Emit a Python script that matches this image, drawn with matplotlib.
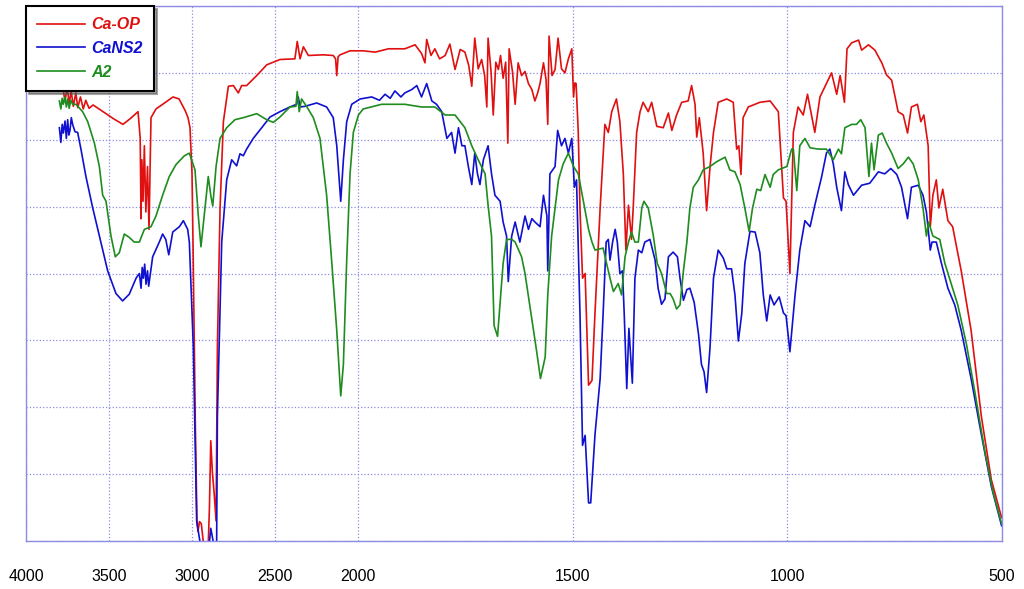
import matplotlib.pyplot as plt
import numpy as np
from matplotlib.ticker import FixedLocator, NullFormatter

# --- data: wavenumber [cm-1] and transmittance (arb., 0-80 full scale)
CAOP_WN = [3777, 3765, 3752, 3740, 3728, 3715, 3700, 3688, 3672, 3655, 3640, 3620, 3596, 3536, 3470, 3416,
           3370, 3325, 3312, 3307, 3302, 3295, 3287, 3278, 3268, 3259, 3253, 3247, 3217, 3160, 3114, 3078,
           3040, 3024, 3012, 3000, 2994, 2980, 2970, 2964, 2955, 2944, 2932, 2922, 2904, 2895, 2887, 2877,
           2867, 2855, 2847, 2831, 2811, 2781, 2751, 2721, 2701, 2671, 2610, 2550, 2470, 2380, 2366, 2349,
           2329, 2299, 2209, 2149, 2135, 2128, 2120, 2108, 2048, 1988, 1960, 1929, 1891, 1867, 1852, 1844,
           1840, 1830, 1821, 1810, 1797, 1786, 1774, 1762, 1751, 1742, 1735, 1728, 1720, 1712, 1705, 1700,
           1697, 1690, 1685, 1679, 1673, 1668, 1662, 1656, 1651, 1648, 1640, 1634, 1627, 1619, 1611, 1603,
           1595, 1588, 1582, 1576, 1568, 1562, 1558, 1555, 1548, 1541, 1534, 1526, 1518, 1510, 1502, 1498,
           1495, 1492, 1487, 1483, 1477, 1471, 1463, 1455, 1448, 1436, 1425, 1417, 1409, 1398, 1390, 1382,
           1376, 1370, 1363, 1359, 1351, 1343, 1336, 1324, 1316, 1304, 1289, 1277, 1269, 1258, 1246, 1231,
           1223, 1215, 1211, 1205, 1196, 1188, 1180, 1172, 1161, 1141, 1126, 1118, 1113, 1108, 1103, 1091,
           1064, 1040, 1021, 1009, 1003, 994, 986, 975, 963, 953, 936, 924, 909, 897, 885, 877, 867, 861,
           850, 834, 827, 811, 796, 780, 769, 757, 742, 730, 720, 711, 697, 689, 682, 672, 667, 661, 653,
           647, 638, 626, 615, 595, 572, 548, 525, 501]
CAOP_T = [67.7, 65.7, 67.9, 65.4, 67.3, 65.0, 67.0, 64.8, 66.4, 64.6, 65.9, 64.7, 65.2, 64.2, 63.1, 62.3,
          63.2, 64.2, 60.2, 48.2, 57.0, 50.8, 59.1, 49.2, 56.0, 46.6, 55.0, 63.3, 64.6, 65.6, 66.4, 66.1,
          64.3, 63.3, 61.8, 55.0, 44.7, 17.5, 3.0, 1.4, 2.9, 2.6, -0.1, -2, -2, 5.0, 15.0, 10.2,
          7.3, 3.0, 29.0, 49.8, 62.7, 68.0, 68.1, 67.0, 68.1, 68.1, 69.6, 71.2, 72.0, 72.1, 74.7, 72.1,
          73.9, 72.6, 72.7, 72.6, 72.1, 69.6, 72.4, 72.7, 73.3, 73.3, 73.1, 73.6, 73.6, 74.2, 72.9, 71.5,
          75.0, 72.6, 73.6, 72.1, 72.6, 74.3, 70.5, 73.5, 73.1, 71.1, 68.0, 75.2, 70.6, 72.0, 69.6, 64.9,
          75.2, 70.1, 63.7, 71.6, 70.5, 72.6, 69.2, 71.6, 59.5, 73.6, 70.1, 65.3, 71.5, 69.6, 70.2, 68.4,
          67.5, 65.8, 66.9, 68.4, 71.5, 69.0, 62.3, 75.5, 69.6, 70.5, 75.2, 70.6, 70.0, 72.1, 73.6, 66.4,
          68.5, 68.4, 61.2, 49.8, 39.3, 40.0, 23.3, 24.0, 34.1, 49.8, 62.3, 61.1, 64.2, 66.1, 62.7, 54.9,
          43.5, 50.2, 45.1, 49.8, 61.1, 64.2, 65.6, 64.2, 65.6, 62.0, 61.8, 64.0, 61.4, 63.7, 65.6, 65.8,
          68.1, 65.3, 60.4, 63.3, 58.0, 49.4, 56.0, 61.1, 65.6, 66.1, 65.6, 58.6, 59.1, 54.8, 63.3, 64.9,
          65.6, 65.8, 64.2, 51.3, 50.8, 40.0, 61.1, 64.9, 63.7, 66.8, 61.1, 66.4, 68.4, 70.0, 66.8, 69.6, 65.6, 73.6,
          74.5, 74.9, 73.4, 74.2, 73.4, 71.5, 69.7, 68.9, 64.2, 63.7, 61.0, 64.9, 65.3, 62.7, 63.7, 59.1, 47.0, 51.7, 54.0,
          49.8, 52.6, 47.9, 47.0, 40.4, 31.5, 18.6, 9.2, 3.5]

CANS2_WN = [3799, 3790, 3782, 3775, 3765, 3757, 3749, 3742, 3735, 3727, 3719, 3705, 3689, 3669, 3639, 3598,
            3558, 3508, 3458, 3418, 3378, 3337, 3317, 3307, 3300, 3293, 3285, 3277, 3268, 3261, 3237, 3197,
            3177, 3158, 3140, 3116, 3076, 3052, 3026, 3016, 2992, 2972, 2952, 2942, 2902, 2887, 2872, 2862,
            2852, 2847, 2821, 2791, 2761, 2731, 2711, 2691, 2671, 2631, 2580, 2530, 2470, 2410, 2370, 2360,
            2349, 2319, 2249, 2189, 2149, 2128, 2104, 2088, 2068, 2038, 1995, 1968, 1950, 1937, 1925, 1914,
            1900, 1891, 1875, 1863, 1852, 1840, 1828, 1817, 1805, 1793, 1782, 1774, 1766, 1758, 1751, 1743,
            1735, 1728, 1722, 1716, 1708, 1697, 1689, 1681, 1669, 1662, 1654, 1650, 1642, 1634, 1623, 1611,
            1603, 1595, 1588, 1576, 1568, 1560, 1558, 1553, 1541, 1535, 1526, 1518, 1510, 1502, 1496, 1491,
            1483, 1477, 1471, 1463, 1458, 1448, 1436, 1429, 1422, 1417, 1413, 1407, 1401, 1396, 1390, 1384,
            1380, 1374, 1369, 1361, 1355, 1347, 1339, 1332, 1320, 1308, 1301, 1293, 1285, 1277, 1266, 1256,
            1250, 1242, 1234, 1227, 1217, 1207, 1200, 1194, 1188, 1180, 1172, 1161, 1149, 1141, 1130, 1122,
            1114, 1106, 1099, 1087, 1075, 1064, 1056, 1048, 1040, 1031, 1019, 1009, 1003, 994, 982, 971,
            959, 947, 936, 920, 909, 901, 893, 885, 874, 866, 858, 846, 827, 808, 788, 773, 759, 745, 734,
            720, 711, 695, 684, 676, 667, 663, 653, 641, 626, 610, 595, 572, 548, 525, 501]
CANS2_T = [61.8, 59.6, 62.3, 61.0, 62.8, 60.2, 63.0, 60.7, 61.4, 63.3, 62.3, 61.2, 61.1, 58.6, 54.5, 49.8,
           45.6, 40.4, 37.0, 35.9, 36.9, 39.3, 40.0, 37.8, 40.9, 39.3, 41.4, 38.4, 40.4, 38.1, 42.5, 44.7,
           45.9, 45.1, 42.8, 46.2, 47.0, 47.9, 46.6, 44.7, 29.0, 3.0, -0.1, -2, -2, 1.9, -0.1, -2,
           -2, 18.6, 44.7, 54.0, 57.0, 56.1, 57.9, 57.6, 58.6, 60.2, 61.8, 63.4, 64.2, 64.9, 65.3, 66.4,
           64.9, 65.0, 65.5, 64.9, 63.3, 59.1, 50.8, 57.0, 62.7, 65.3, 66.1, 66.4, 65.9, 66.8, 66.2, 67.3,
           66.4, 67.0, 67.5, 68.1, 66.4, 68.4, 65.8, 65.3, 64.2, 60.2, 61.1, 58.0, 61.8, 59.1, 59.1, 56.0,
           53.3, 58.0, 55.0, 53.3, 57.0, 59.1, 54.9, 51.7, 50.8, 47.7, 45.6, 38.8, 45.6, 47.7, 44.7, 48.6,
           46.6, 48.2, 47.7, 47.0, 51.7, 48.6, 40.4, 54.9, 56.0, 61.4, 59.1, 60.2, 58.0, 60.2, 52.9, 54.0,
           34.1, 14.3, 15.8, 5.7, 5.7, 15.9, 24.3, 34.1, 44.7, 45.1, 42.0, 44.7, 46.6, 44.7, 40.0, 40.4,
           34.1, 22.8, 31.8, 23.6, 39.3, 43.5, 43.1, 44.7, 45.1, 42.0, 37.8, 35.4, 36.2, 42.5, 43.2, 42.5,
           39.3, 36.0, 37.6, 37.8, 35.7, 31.0, 26.4, 25.3, 22.2, 29.0, 39.3, 43.5, 42.3, 40.7, 40.7, 36.8,
           29.9, 34.1, 41.5, 46.3, 46.2, 43.1, 36.8, 32.9, 36.8, 35.3, 36.5, 34.1, 33.7, 28.3, 36.8, 43.5,
           47.9, 47.0, 50.2, 54.5, 58.0, 58.6, 56.4, 52.9, 49.4, 55.2, 53.3, 51.7, 53.2, 53.5, 55.2, 54.9, 55.7, 54.8, 52.9,
           48.2, 52.9, 53.2, 51.7, 49.2, 43.5, 44.7, 44.7, 41.5, 37.8, 35.3, 31.5, 24.3, 15.9, 8.2, 2.3]

A2_WN = [3799, 3790, 3782, 3775, 3765, 3757, 3749, 3740, 3730, 3719, 3699, 3659, 3628, 3588, 3558, 3538,
         3518, 3488, 3462, 3438, 3408, 3378, 3348, 3317, 3287, 3247, 3217, 3177, 3137, 3096, 3046, 3016,
         2982, 2962, 2946, 2922, 2902, 2887, 2875, 2855, 2831, 2791, 2741, 2691, 2610, 2550, 2510, 2470,
         2410, 2374, 2366, 2354, 2340, 2310, 2269, 2229, 2189, 2159, 2128, 2104, 2088, 2068, 2048, 2028,
         1999, 1988, 1945, 1891, 1852, 1821, 1797, 1774, 1751, 1735, 1720, 1704, 1697, 1689, 1683, 1675,
         1669, 1662, 1654, 1642, 1634, 1619, 1611, 1595, 1584, 1575, 1564, 1558, 1549, 1541, 1533, 1522,
         1510, 1498, 1487, 1475, 1463, 1455, 1448, 1429, 1421, 1413, 1405, 1394, 1386, 1378, 1370, 1363,
         1355, 1347, 1339, 1334, 1324, 1312, 1303, 1293, 1281, 1273, 1266, 1258, 1250, 1242, 1234, 1227,
         1219, 1207, 1196, 1180, 1165, 1145, 1134, 1122, 1110, 1099, 1089, 1081, 1071, 1062, 1052, 1040,
         1033, 1021, 1001, 990, 986, 978, 971, 959, 947, 928, 909, 893, 881, 874, 866, 850, 839, 829,
         819, 810, 804, 798, 788, 779, 769, 757, 742, 730, 718, 707, 695, 684, 676, 671, 661, 645, 633,
         618, 603, 583, 563, 540, 521, 501]
A2_T = [65.8, 64.6, 66.2, 65.3, 66.4, 64.9, 66.1, 64.7, 65.9, 65.3, 65.3, 64.2, 62.7, 59.5, 56.0, 51.7,
        50.8, 45.6, 42.5, 43.1, 45.9, 45.4, 44.7, 44.7, 46.6, 47.0, 48.6, 51.7, 54.5, 56.3, 57.6, 58.0,
        55.5, 48.6, 44.0, 49.8, 54.5, 51.7, 50.1, 56.0, 60.2, 61.8, 63.0, 63.3, 63.9, 63.0, 62.6, 63.4,
        64.9, 65.0, 67.2, 64.2, 66.1, 65.0, 63.3, 60.2, 51.7, 42.0, 31.5, 21.7, 26.4, 42.0, 54.9, 61.1,
        63.7, 64.6, 65.3, 65.3, 64.9, 64.9, 63.7, 63.7, 61.8, 59.1, 57.0, 54.9, 50.2, 45.6, 32.2, 30.6,
        35.7, 41.5, 45.1, 45.1, 44.7, 42.5, 40.0, 33.1, 28.4, 24.3, 27.5, 36.8, 45.6, 49.8, 54.0, 56.4,
        58.0, 56.0, 54.9, 50.8, 46.6, 44.7, 43.5, 43.8, 41.5, 39.3, 37.3, 38.5, 36.8, 42.5, 44.7, 46.2,
        44.7, 44.7, 49.8, 50.8, 49.8, 45.6, 41.5, 40.0, 37.0, 37.0, 36.2, 34.7, 35.3, 40.4, 44.7, 49.8,
        52.9, 54.0, 55.5, 56.0, 56.7, 57.4, 55.5, 55.2, 53.3, 49.8, 46.3, 49.8, 52.6, 52.4, 54.8, 52.9,
        54.8, 55.5, 56.0, 58.6, 58.6, 52.4, 59.1, 60.2, 58.8, 58.6, 58.6, 57.0, 58.6, 57.9, 61.8, 62.3, 62.3, 63.0,
        61.8, 54.5, 59.5, 55.5, 60.7, 61.0, 59.5, 58.0, 55.7, 56.4, 57.4, 56.4, 54.0, 49.8, 45.6, 47.7, 45.6, 45.1, 41.5,
        38.4, 35.3, 29.5, 22.2, 13.4, 7.3, 2.6]

SERIES = [
    ("Ca-OP", CAOP_WN, CAOP_T, "#e01010"),
    ("CaNS2", CANS2_WN, CANS2_T, "#1010d0"),
    ("A2", A2_WN, A2_T, "#1e8c1e"),
]
X_TICKS = [4000, 3500, 3000, 2500, 2000, 1500, 1000, 500]
GRID_COLOR = "#8c8ce6"

# the x axis is compressed above 2000 cm-1 (two linear pieces)
BREAK = 2000.0
SLOPE_HI = 332.0 / 2000.0
SLOPE_LO = 644.0 / 1500.0
U_BREAK = (BREAK - 500.0) * SLOPE_LO


def fwd(x):
    x = np.asarray(x, dtype=float)
    return np.where(x > BREAK, U_BREAK + (x - BREAK) * SLOPE_HI, (x - 500.0) * SLOPE_LO)


def inv(u):
    u = np.asarray(u, dtype=float)
    return np.where(u > U_BREAK, BREAK + (u - U_BREAK) / SLOPE_HI, 500.0 + u / SLOPE_LO)


def main():
    fig = plt.figure(figsize=(10.24, 5.89), dpi=100)
    ax = fig.add_axes([26 / 1024, 48 / 589, 976 / 1024, 535 / 589])
    ax.set_xscale("function", functions=(fwd, inv))

    for label, wn, t, color in SERIES:
        ax.plot(wn, t, color=color, lw=1.2, label=label)

    ax.set_xlim(4000, 500)
    ax.set_ylim(0, 80)
    ax.xaxis.set_major_locator(FixedLocator(X_TICKS))
    ax.xaxis.set_minor_locator(FixedLocator([]))
    ax.set_xticklabels([str(v) for v in X_TICKS])
    ax.yaxis.set_major_locator(FixedLocator(np.arange(0, 81, 10)))
    ax.yaxis.set_major_formatter(NullFormatter())
    ax.tick_params(axis="both", length=0)
    ax.tick_params(axis="x", pad=20, labelsize=11.5)
    for lab in ax.get_xticklabels():
        lab.set_fontfamily("Liberation Sans")

    ax.grid(True, color=GRID_COLOR, ls=":", lw=0.9)
    for sp in ax.spines.values():
        sp.set_color(GRID_COLOR)
        sp.set_linewidth(1.0)

    leg = ax.legend(loc="upper left", bbox_to_anchor=(0, 1), borderaxespad=0,
                    fancybox=False, shadow=True, edgecolor="black", framealpha=1,
                    handlelength=3.0, handletextpad=0.4, labelspacing=0.55, borderpad=0.7,
                    prop={"family": "Liberation Sans", "weight": "bold", "style": "italic", "size": 11.5})
    leg.get_frame().set_linewidth(1.5)
    for text, (_, _, _, color) in zip(leg.get_texts(), SERIES):
        text.set_color(color)

    fig.savefig("out.png", dpi=100)
    plt.close(fig)


if __name__ == "__main__":
    main()
